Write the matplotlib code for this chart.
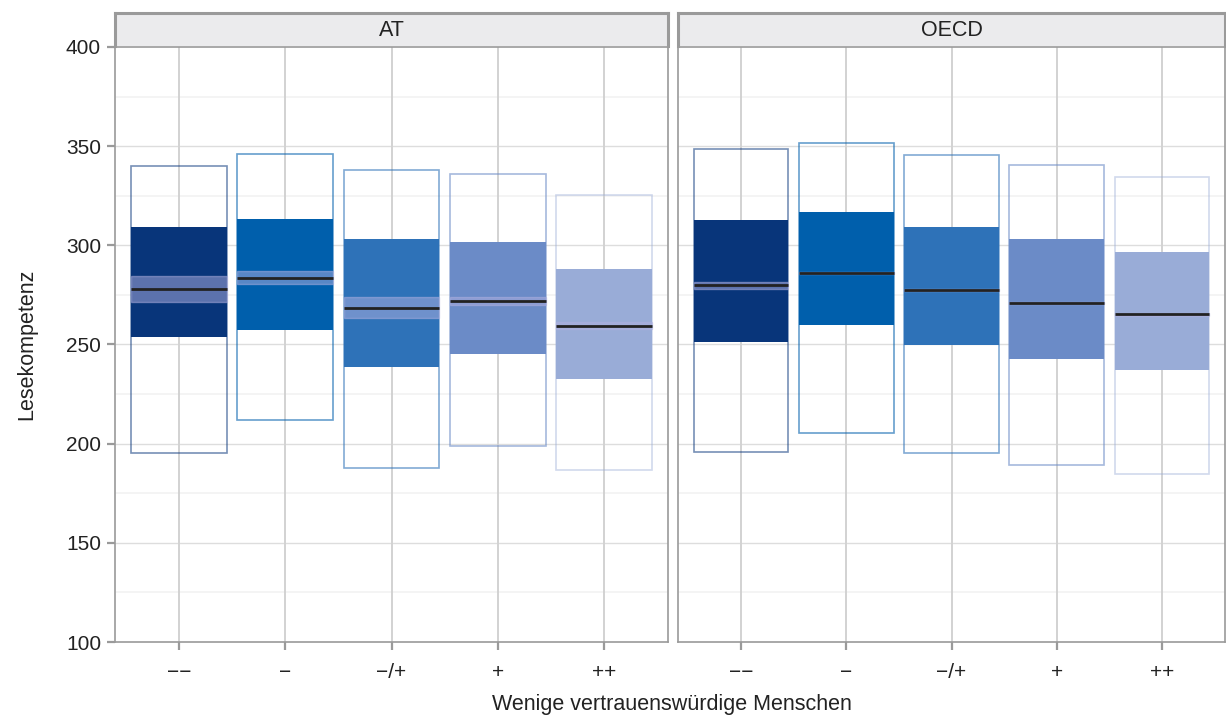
import numpy as np
import matplotlib
matplotlib.use('Agg')
import matplotlib.pyplot as plt
from matplotlib.patches import Rectangle

plt.rcParams['font.family'] = ['Liberation Sans', 'DejaVu Sans']

# data
categories = ['\u2212\u2212', '\u2212', '\u2212/+', '+', '++']
panels = ['AT', 'OECD']

# outer range (lower, upper)
at_outer_lo = [195.3, 211.9, 187.9, 198.6, 186.5]
at_outer_hi = [340.1, 345.9, 337.8, 335.8, 325.2]
# inner box (lower, upper)
at_box_lo = [253.9, 257.3, 238.6, 245.3, 232.8]
at_box_hi = [309.2, 313.3, 303.2, 301.7, 288.0]
# mean and its confidence band
at_mean = [278.1, 283.7, 268.5, 271.9, 259.5]
at_ci_lo = [271.4, 280.3, 263.3, 270.0, 257.6]
at_ci_hi = [284.7, 286.9, 273.9, 273.9, 261.2]

oecd_outer_lo = [195.9, 205.2, 195.4, 189.1, 184.7]
oecd_outer_hi = [348.4, 351.8, 345.7, 340.3, 334.3]
oecd_box_lo = [251.4, 260.0, 249.9, 242.7, 237.3]
oecd_box_hi = [312.8, 316.8, 309.2, 303.2, 296.6]
oecd_mean = [280.0, 286.0, 277.5, 271.0, 265.2]
oecd_ci_lo = [278.1, 285.3, 276.8, 270.4, 264.6]
oecd_ci_hi = [281.7, 286.7, 278.2, 271.6, 265.8]

colors = ['#08357a', '#005fac', '#2e72b8', '#6b8bc7', '#99acd7']
outer_alpha = [0.55, 0.6, 0.6, 0.6, 0.45]

data = {
    'AT': (at_outer_lo, at_outer_hi, at_box_lo, at_box_hi, at_mean, at_ci_lo, at_ci_hi),
    'OECD': (oecd_outer_lo, oecd_outer_hi, oecd_box_lo, oecd_box_hi, oecd_mean, oecd_ci_lo, oecd_ci_hi),
}

fig = plt.figure(figsize=(12.26, 7.15), dpi=100)

bottom = 1 - 642 / 715
height = (642 - 47) / 715
lefts = [115 / 1226, 678 / 1226]
widths = [553 / 1226, 547 / 1226]
w = 0.9
grey = '#9a9a9a'
txt = '#222222'

for i, name in enumerate(panels):
    ax = fig.add_axes([lefts[i], bottom, widths[i], height])
    olo, ohi, blo, bhi, mean, clo, chi = data[name]
    x = np.arange(1, len(categories) + 1)

    ax.set_xlim(0.4, 5.6)
    ax.set_ylim(100, 400)
    ax.set_yticks([100, 150, 200, 250, 300, 350, 400])
    ax.set_xticks(x)
    ax.set_xticklabels(categories)

    # grid
    for yy in [150, 200, 250, 300, 350]:
        ax.axhline(yy, color='#dddddd', lw=1.0, zorder=0)
    for yy in [125, 175, 225, 275, 325, 375]:
        ax.axhline(yy, color='#f3f3f3', lw=1.3, zorder=0)
    for xx in x:
        ax.axvline(xx, color='#d2d2d2', lw=1.4, zorder=0)

    for j in range(len(categories)):
        ax.add_patch(Rectangle((x[j] - w / 2, olo[j]), w, ohi[j] - olo[j],
                               fill=False, edgecolor=colors[j], alpha=outer_alpha[j],
                               lw=1.2, zorder=2))
        ax.add_patch(Rectangle((x[j] - w / 2, blo[j]), w, bhi[j] - blo[j],
                               facecolor=colors[j], edgecolor='none', zorder=3))
        ax.add_patch(Rectangle((x[j] - w / 2, clo[j]), w, chi[j] - clo[j],
                               facecolor='#b0b0e0', edgecolor='#b0b0e0', alpha=0.5,
                               lw=1.0, zorder=4))
        ax.plot([x[j] - w / 2, x[j] + w / 2], [mean[j], mean[j]],
                color=txt, lw=2.0, zorder=5, solid_capstyle='butt')

    for s in ax.spines.values():
        s.set_color(grey)
        s.set_linewidth(1.2)
    ax.tick_params(axis='x', which='major', direction='out', length=6,
                   width=1.6, color=grey, labelsize=15, labelcolor=txt, pad=9)
    ax.tick_params(axis='y', which='major', direction='out', length=6,
                   width=1.6, color=grey, labelsize=15, labelcolor=txt, pad=4)
    if i == 0:
        ax.set_ylabel('Lesekompetenz', fontsize=15.5, color=txt, labelpad=21)
    else:
        ax.tick_params(axis='y', which='both', left=False, labelleft=False)

    # strip on top
    sax = fig.add_axes([lefts[i], 1 - 46 / 715, widths[i], 33 / 715])
    sax.set_facecolor('#ebebed')
    sax.set_xticks([])
    sax.set_yticks([])
    for s in sax.spines.values():
        s.set_color(grey)
        s.set_linewidth(2.2)
    sax.spines['bottom'].set_visible(False)
    sax.text(0.5, 0.48, name, ha='center', va='center', fontsize=15.5, color=txt,
             transform=sax.transAxes)

fig.text(672 / 1226, 1 - 710 / 715, 'Wenige vertrauenswürdige Menschen',
         ha='center', va='baseline', fontsize=15.5, color=txt)

fig.savefig('out.png', dpi=100)
